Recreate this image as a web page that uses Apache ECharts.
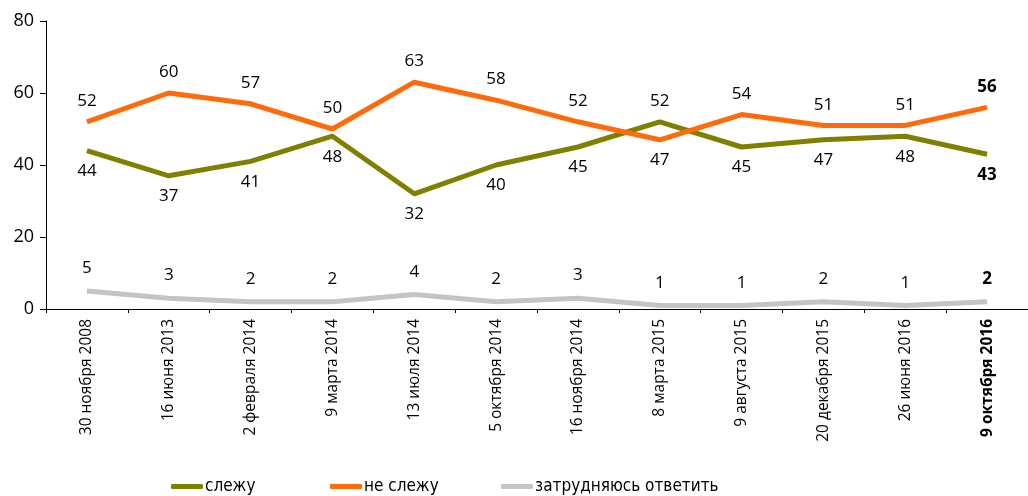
<!DOCTYPE html>
<html>
<head>
<meta charset="utf-8">
<script src="https://cdn.jsdelivr.net/npm/echarts@6/dist/echarts.min.js"></script>
<style>
  html, body { margin: 0; padding: 0; background: #fff; }
  #chart { width: 1028px; height: 496px; }
</style>
</head>
<body>
<div id="chart"></div>
<script>
// даты опросов
var dates = ['30 ноября 2008', '16 июня 2013', '2 февраля 2014', '9 марта 2014', '13 июля 2014',
  '5 октября 2014', '16 ноября 2014', '8 марта 2015', '9 августа 2015', '20 декабря 2015',
  '26 июня 2016', '9 октября 2016'];
var follow = [44, 37, 41, 48, 32, 40, 45, 52, 45, 47, 48, 43];      // слежу
var notFollow = [52, 60, 57, 50, 63, 58, 52, 47, 54, 51, 51, 56];   // не слежу
var hardToSay = [5, 3, 2, 2, 4, 2, 3, 1, 1, 2, 1, 2];               // затрудняюсь ответить
var yTicks = [0, 20, 40, 60, 80];

var last = dates.length - 1;
var font = 'Open Sans';

// подпись сверху или снизу в зависимости от того, какая линия выше
function points(vals, other, upDefault) {
  return vals.map(function (v, i) {
    var up = other ? v >= other[i] : upDefault;
    return {
      value: v,
      label: {
        show: true,
        position: up ? 'top' : 'bottom',
        fontWeight: i === last ? 'bold' : 'normal'
      }
    };
  });
}

var chart = echarts.init(document.getElementById('chart'));
var legendText = { fontFamily: 'DejaVu Sans Condensed', fontSize: 17, color: '#000', padding: [0, 0, 0, -3] };

chart.setOption({
  animation: false,
  grid: { left: 46, top: 21, width: 989, height: 288, containLabel: false },
  legend: [
    { data: ['слежу'], left: 166, top: 473, itemWidth: 32, itemHeight: 5, textStyle: legendText, icon: 'roundRect' },
    { data: ['не слежу'], left: 325, top: 473, itemWidth: 32, itemHeight: 5, textStyle: legendText, icon: 'roundRect' },
    { data: ['затрудняюсь ответить'], left: 496, top: 473, itemWidth: 32, itemHeight: 5, textStyle: legendText, icon: 'roundRect' }
  ],
  xAxis: {
    type: 'category',
    data: dates,
    boundaryGap: true,
    axisLine: { lineStyle: { color: '#000', width: 1 } },
    axisTick: { show: true, length: 4, lineStyle: { color: '#000' } },
    axisLabel: {
      rotate: 90,
      interval: 0,
      margin: 10,
      fontFamily: font,
      fontSize: 15.5,
      color: '#000',
      formatter: function (v, i) {
        return i === last ? '{b|' + v + '}' : v;
      },
      rich: { b: { fontWeight: 'bold', fontFamily: font, fontSize: 15.5, color: '#000' } }
    }
  },
  yAxis: {
    type: 'value',
    min: yTicks[0],
    max: yTicks[yTicks.length - 1],
    interval: 20,
    splitLine: { show: false },
    axisLine: { show: true, lineStyle: { color: '#000', width: 1 } },
    axisTick: { show: true, length: 6, lineStyle: { color: '#000' } },
    axisLabel: { fontFamily: font, fontSize: 18, color: '#000', margin: 12 }
  },
  series: [
    {
      name: 'слежу', type: 'line', data: points(follow, notFollow),
      symbol: 'circle', symbolSize: 0.1, showSymbol: true, color: '#808000',
      lineStyle: { width: 5, color: '#808000' },
      label: { show: true, distance: 12, fontFamily: font, fontSize: 17, color: '#000' }
    },
    {
      name: 'не слежу', type: 'line', data: points(notFollow, follow),
      symbol: 'circle', symbolSize: 0.1, showSymbol: true, color: '#ff6a0a',
      lineStyle: { width: 5, color: '#ff6a0a' },
      label: { show: true, distance: 12, fontFamily: font, fontSize: 17, color: '#000' }
    },
    {
      name: 'затрудняюсь ответить', type: 'line', data: points(hardToSay, null, true),
      symbol: 'circle', symbolSize: 0.1, showSymbol: true, color: '#c4c4c4',
      lineStyle: { width: 5, color: '#c4c4c4' },
      label: { show: true, distance: 14, fontFamily: font, fontSize: 17, color: '#000' }
    }
  ]
});
</script>
</body>
</html>
